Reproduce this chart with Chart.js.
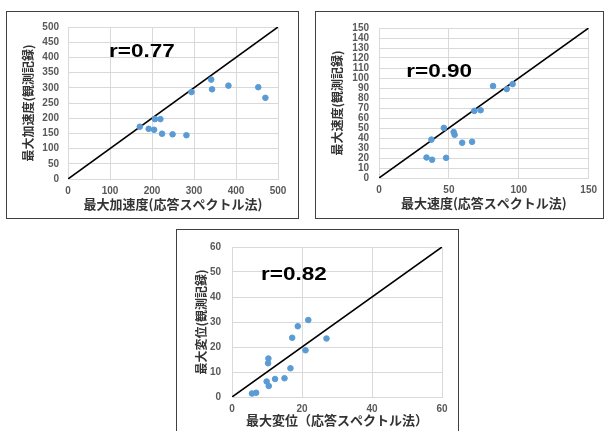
<!DOCTYPE html>
<html>
<head>
<meta charset="utf-8">
<script src="https://cdn.jsdelivr.net/npm/chart.js@4.4.0/dist/chart.umd.min.js"></script>
<style>
  body { margin: 0; background: #fff; width: 608px; height: 431px; overflow: hidden; position: relative; }
  .panel { position: absolute; border: 1px solid #404040; box-sizing: border-box; background: #fff; }
  .panel canvas { display: block; }
</style>
</head>
<body>
<div class="panel" style="left:6px;top:11px;width:293px;height:208px"><canvas id="c1" width="291" height="206"></canvas></div>
<div class="panel" style="left:315px;top:11px;width:289px;height:208px"><canvas id="c2" width="287" height="206"></canvas></div>
<div class="panel" style="left:176px;top:229px;width:283px;height:205px"><canvas id="c3" width="281" height="203"></canvas></div>
<script>
// max acceleration: response spectrum (x) vs observed (y)
const accelX = [171, 192, 205, 207, 220, 224, 249, 282, 294, 341, 343, 382, 453, 470];
const accelY = [172, 165, 162, 197, 197, 149, 147, 144, 286, 327, 295, 307, 302, 267];
const accelXTicks = [0, 100, 200, 300, 400, 500];
const accelYTicks = [0, 50, 100, 150, 200, 250, 300, 350, 400, 450, 500];
// max velocity
const velX = [34, 38, 48, 37.5, 46.4, 53.4, 54.1, 59.5, 66.6, 68.2, 72.7, 81.6, 91.4, 95.6];
const velY = [20.5, 18.3, 20.2, 38.4, 50.1, 46, 43.2, 35.3, 36.2, 67.1, 67.8, 92, 88.9, 93.9];
const velXTicks = [0, 50, 100, 150];
const velYTicks = [0, 10, 20, 30, 40, 50, 60, 70, 80, 90, 100, 110, 120, 130, 140, 150];
// max displacement
const dispX = [5.7, 6.9, 9.9, 10.5, 10.3, 10.4, 12.3, 15.0, 16.7, 17.2, 18.8, 21.0, 21.8, 27.0];
const dispY = [1.4, 1.7, 6.2, 4.4, 13.5, 15.4, 7.2, 7.5, 11.5, 23.7, 28.3, 18.7, 30.8, 23.4];
const dispXTicks = [0, 20, 40, 60];
const dispYTicks = [0, 10, 20, 30, 40, 50, 60];

const rLabel = {
  id: 'rLabel',
  afterDatasetsDraw(chart, args, opts) {
    const { ctx, scales: { x, y } } = chart;
    ctx.save();
    ctx.translate(x.getPixelForValue(opts.x), y.getPixelForValue(opts.y));
    ctx.scale(1.25, 1);
    ctx.font = 'bold 18px "Liberation Sans", Arial, sans-serif';
    ctx.fillStyle = '#000';
    ctx.textAlign = 'center';
    ctx.textBaseline = 'middle';
    ctx.fillText(opts.text, 0, 0);
    ctx.restore();
  }
};

const tickFont = { family: '"Liberation Sans", Arial, sans-serif', size: 10, weight: 'bold' };
const titleFontFamily = '"Noto Sans CJK JP", sans-serif';

function makeChart(id, xs, ys, xTicks, yTicks, o) {
  const pts = xs.map((x, i) => ({ x: x, y: ys[i] }));
  const max = xTicks[xTicks.length - 1];
  return new Chart(document.getElementById(id), {
    type: 'scatter',
    data: {
      datasets: [
        { data: pts, backgroundColor: '#5b9bd5', borderColor: '#5b9bd5', pointRadius: 2.8, pointHoverRadius: 2.8, order: 1 },
        { type: 'line', data: [{ x: 0, y: 0 }, { x: max, y: max }], borderColor: '#000', borderWidth: 1.6, pointRadius: 0, order: 2 }
      ]
    },
    options: {
      responsive: false,
      animation: false,
      layout: { padding: { left: 0, top: o.top, right: o.right, bottom: 0 } },
      plugins: {
        legend: { display: false },
        tooltip: { enabled: false },
        rLabel: { text: o.r, x: o.rx, y: o.ry }
      },
      scales: {
        x: {
          type: 'linear', min: 0, max: max,
          afterBuildTicks: s => { s.ticks = xTicks.map(v => ({ value: v })); },
          ticks: { autoSkip: false, color: '#595959', font: tickFont, padding: 6, maxRotation: 0 },
          grid: { color: '#d9d9d9', drawTicks: false },
          border: { color: '#d9d9d9' },
          title: { display: true, text: o.xTitle, color: '#333', font: { family: titleFontFamily, size: 13, weight: 'bold' }, padding: { top: 0, bottom: o.xTitlePad } },
          afterFit: s => { s.height = o.xH; }
        },
        y: {
          type: 'linear', min: 0, max: max,
          afterBuildTicks: s => { s.ticks = yTicks.map(v => ({ value: v })); },
          ticks: { autoSkip: false, color: '#595959', font: tickFont, padding: o.yTickPad },
          grid: { color: '#d9d9d9', drawTicks: false },
          border: { display: false },
          title: { display: true, text: o.yTitle, color: '#333', font: { family: titleFontFamily, size: 12, weight: 'bold' }, padding: { top: o.yTitlePad, bottom: 0 } },
          afterFit: s => { s.width = o.yW; }
        }
      }
    },
    plugins: [rLabel]
  });
}

makeChart('c1', accelX, accelY, accelXTicks, accelYTicks, {
  xTitle: '最大加速度(応答スペクトル法)', yTitle: '最大加速度(観測記録)',
  r: 'r=0.77', rx: 176, ry: 418,
  top: 8, right: 20, xH: 39, yW: 61, xTitlePad: 6, yTitlePad: 14, yTickPad: 9
});

makeChart('c2', velX, velY, velXTicks, velYTicks, {
  xTitle: '最大速度(応答スペクトル法)', yTitle: '最大速度(観測記録)',
  r: 'r=0.90', rx: 43, ry: 106,
  top: 7, right: 11, xH: 40, yW: 63, xTitlePad: 7, yTitlePad: 14, yTickPad: 10
});

makeChart('c3', dispX, dispY, dispXTicks, dispYTicks, {
  xTitle: '最大変位（応答スペクトル法）', yTitle: '最大変位(観測記録)',
  r: 'r=0.82', rx: 17.7, ry: 48.8,
  top: 12, right: 16, xH: 36, yW: 55, xTitlePad: 5, yTitlePad: 17, yTickPad: 11
});
</script>
</body>
</html>
